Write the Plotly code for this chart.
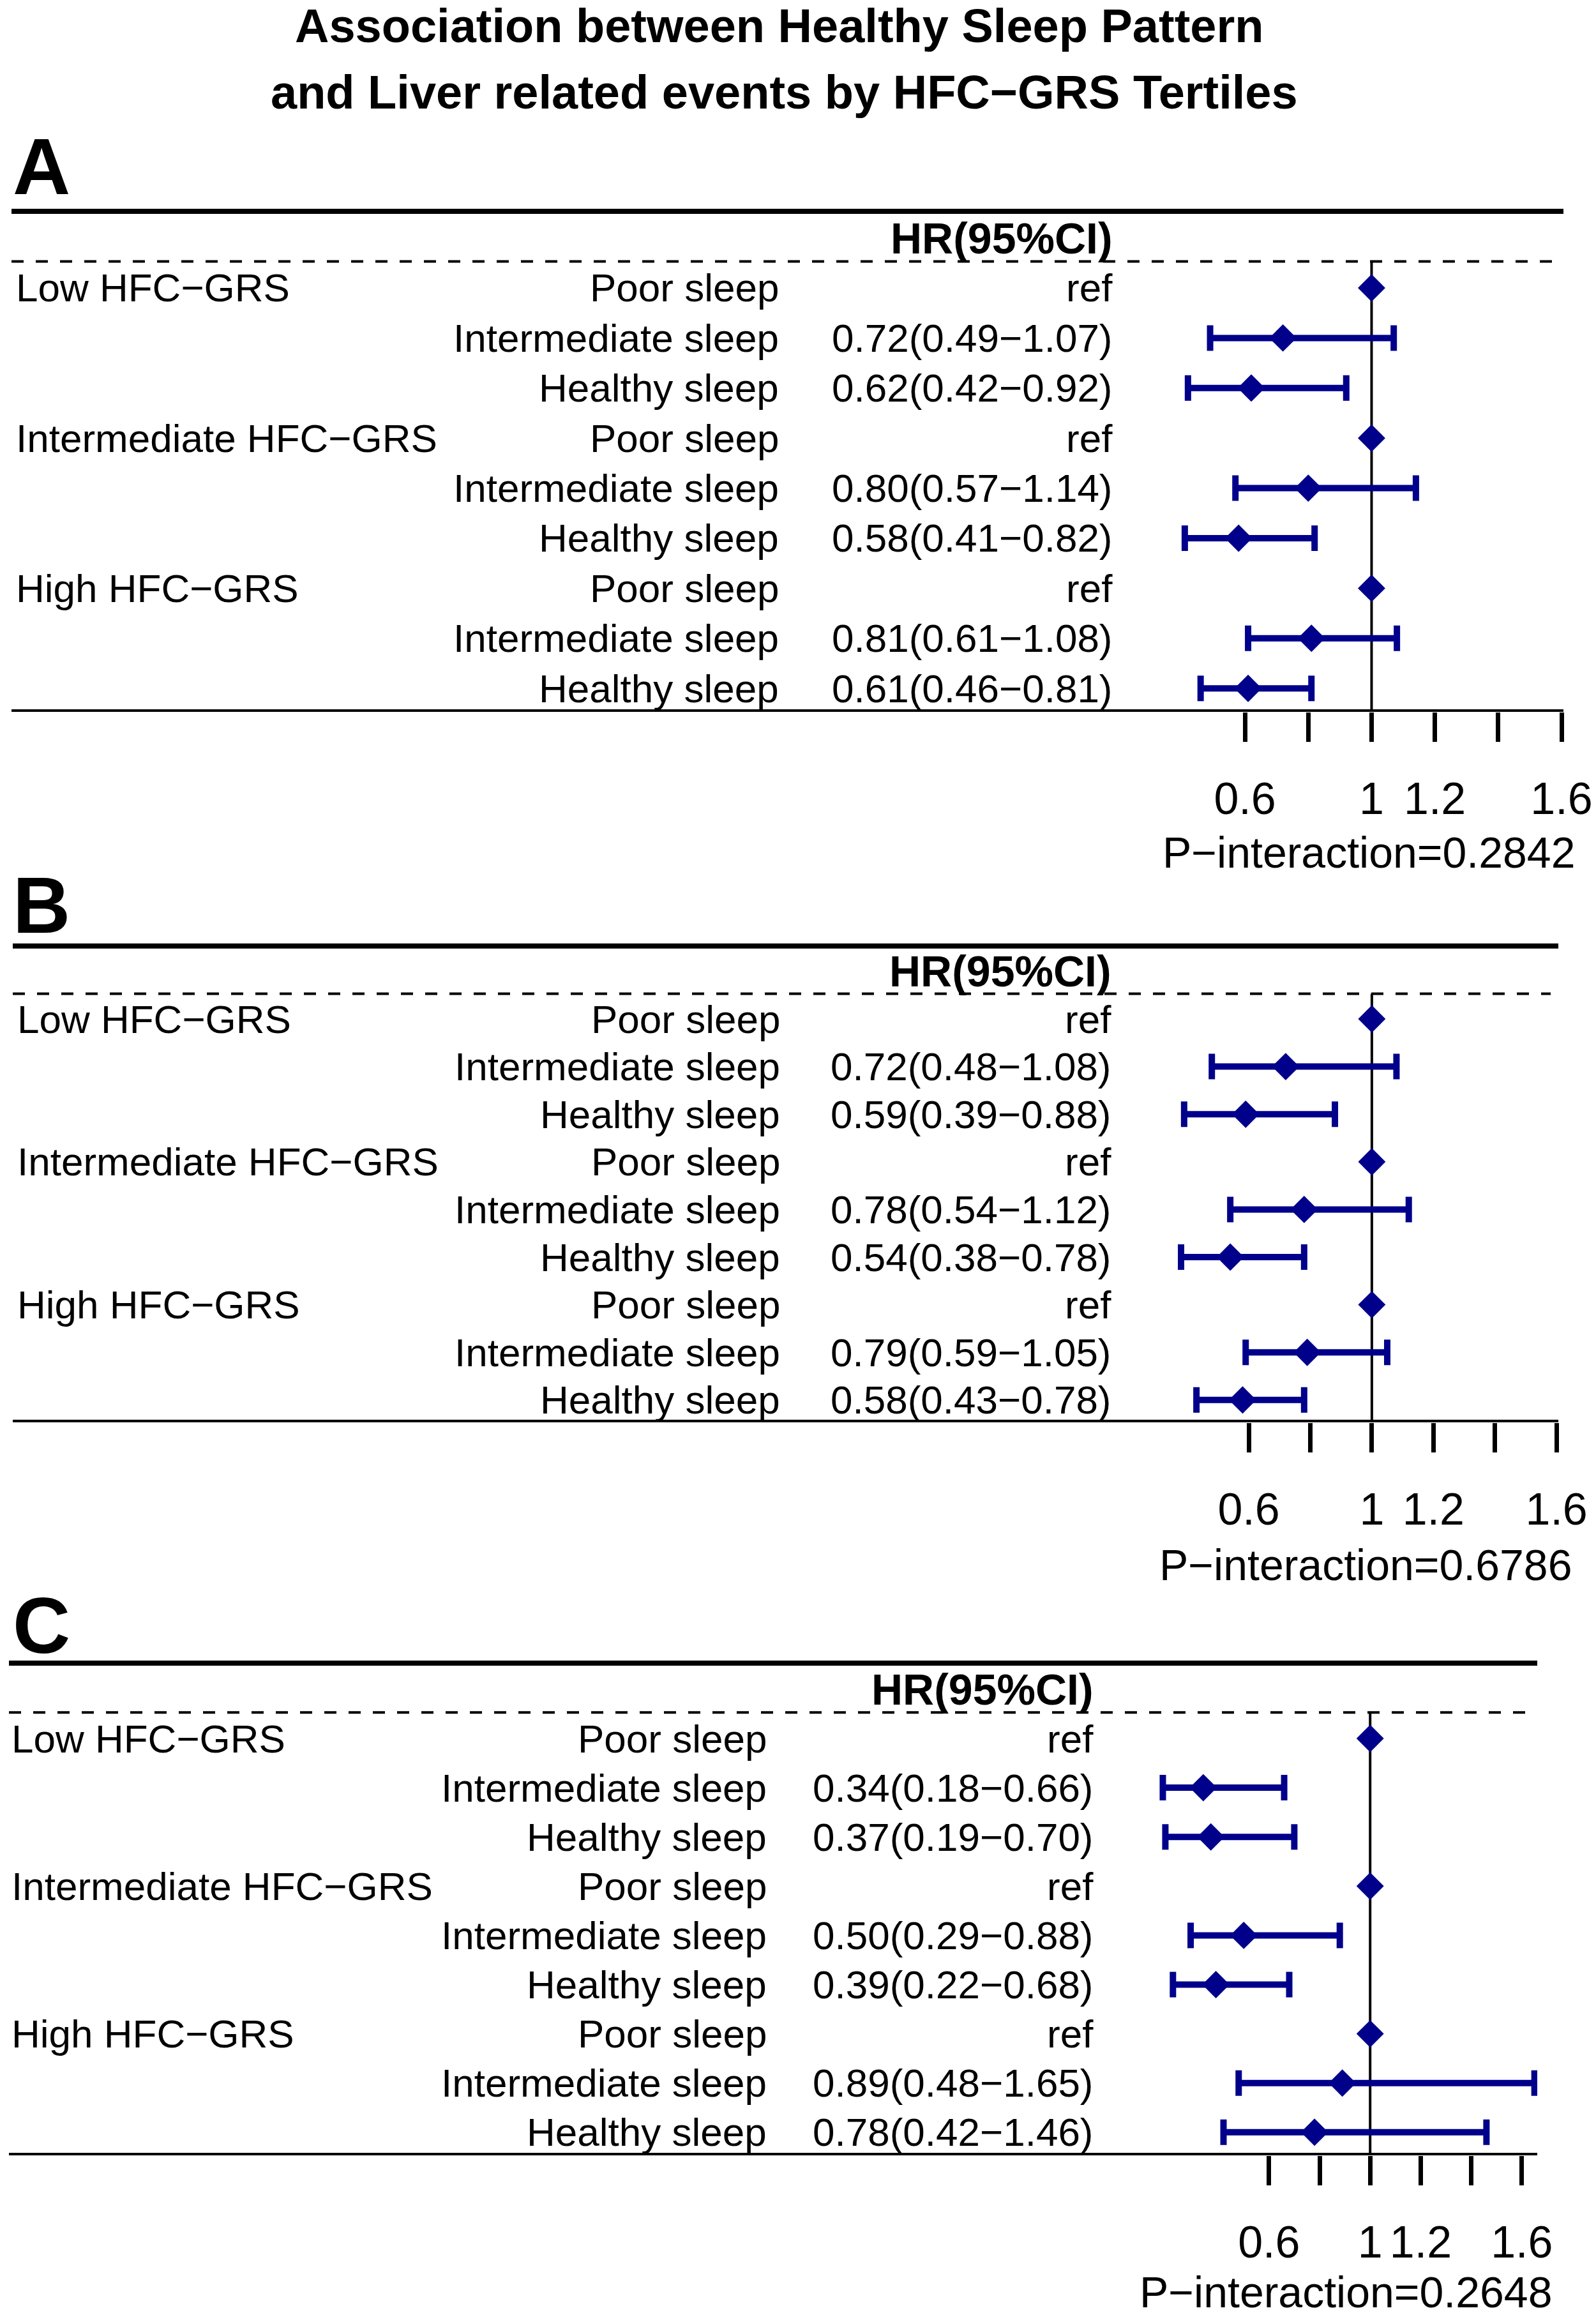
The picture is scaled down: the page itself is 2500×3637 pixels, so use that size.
import plotly.graph_objects as go

W, H = 2500, 3637
FONT = "Liberation Sans, Arial, sans-serif"
NAVY = "#00008B"

# --- data ---
GROUPS = ["Low HFC−GRS", "", "", "Intermediate HFC−GRS", "", "", "High HFC−GRS", "", ""]
SLEEP = ["Poor sleep", "Intermediate sleep", "Healthy sleep"] * 3
REF = 1.0

# None = reference category (HR fixed at 1)
HR_A = [None, 0.72, 0.62, None, 0.80, 0.58, None, 0.81, 0.61]
LO_A = [None, 0.49, 0.42, None, 0.57, 0.41, None, 0.61, 0.46]
HI_A = [None, 1.07, 0.92, None, 1.14, 0.82, None, 1.08, 0.81]

HR_B = [None, 0.72, 0.59, None, 0.78, 0.54, None, 0.79, 0.58]
LO_B = [None, 0.48, 0.39, None, 0.54, 0.38, None, 0.59, 0.43]
HI_B = [None, 1.08, 0.88, None, 1.12, 0.78, None, 1.05, 0.78]

HR_C = [None, 0.34, 0.37, None, 0.50, 0.39, None, 0.89, 0.78]
LO_C = [None, 0.18, 0.19, None, 0.29, 0.22, None, 0.48, 0.42]
HI_C = [None, 0.66, 0.70, None, 0.88, 0.68, None, 1.65, 1.46]

P_INT = ["0.2842", "0.6786", "0.2648"]
TICK_VALS = [0.6, 0.8, 1.0, 1.2, 1.4, 1.6]
TICK_TEXT = ["0.6", "", "1", "1.2", "", "1.6"]

# --- layout of the three panels (pixels) ---
PANELS = [
    dict(letter="A", hr=HR_A, lo=LO_A, hi=HI_A, p=P_INT[0], row1=451, step=78.4,
         xdom=(1839, 2449), xr=(0.376, 1.606), c1=23, c2=1222, c3=1745,
         left=18, right=2449, letter_y=260, p_x=2144, p_y=1335),
    dict(letter="B", hr=HR_B, lo=LO_B, hi=HI_B, p=P_INT[1], row1=1596, step=74.6,
         xdom=(1837, 2441), xr=(0.353, 1.606), c1=25, c2=1224, c3=1743,
         left=20, right=2441, letter_y=1418, p_x=2139, p_y=2451),
    dict(letter="C", hr=HR_C, lo=LO_C, hi=HI_C, p=P_INT[2], row1=2723, step=77.1,
         xdom=(1808, 2408), xr=(0.146, 1.661), c1=16, c2=1203, c3=1715,
         left=14, right=2408, letter_y=2545, p_x=2108, p_y=3590),
]
BOTTOM = 9.47
TOP_LINE = -0.53
DASH_LINE = 0.47


def px(x):
    return x / W


def py(y):
    return 1 - y / H


fig = go.Figure()
annotations = []
shapes = []
rows = list(range(1, 10))

for i, p in enumerate(PANELS):
    n = "" if i == 0 else str(i + 1)
    xref, yref = "x" + n, "y" + n

    ref_rows = [r for r, lo in zip(rows, p["lo"]) if lo is None]
    ci = [(r, h, lo, hi) for r, h, lo, hi in zip(rows, p["hr"], p["lo"], p["hi"]) if lo is not None]

    fig.add_trace(go.Scatter(
        x=[c[1] for c in ci], y=[c[0] for c in ci], mode="markers",
        marker=dict(symbol="diamond", size=33, color=NAVY),
        error_x=dict(type="data", symmetric=False,
                     array=[c[3] - c[1] for c in ci],
                     arrayminus=[c[1] - c[2] for c in ci],
                     color=NAVY, thickness=10, width=20),
        xaxis=xref, yaxis=yref, showlegend=False, cliponaxis=False))
    fig.add_trace(go.Scatter(
        x=[REF] * len(ref_rows), y=ref_rows, mode="markers",
        marker=dict(symbol="diamond", size=33, color=NAVY),
        xaxis=xref, yaxis=yref, showlegend=False, cliponaxis=False))

    top_px = p["row1"] - 2 * p["step"]
    bot_px = p["row1"] + (BOTTOM - 1) * p["step"]
    fig.update_layout(**{
        "xaxis" + n: dict(domain=[px(p["xdom"][0]), px(p["xdom"][1])], range=list(p["xr"]),
                          anchor=yref, tickvals=TICK_VALS, ticktext=TICK_TEXT,
                          ticks="outside", ticklen=46, tickwidth=7, tickcolor="black",
                          showline=False, showgrid=False, zeroline=False, automargin=False,
                          tickfont=dict(size=70, family=FONT, color="black"),
                          ticklabelstandoff=29, fixedrange=True),
        "yaxis" + n: dict(domain=[py(bot_px), py(top_px)], range=[BOTTOM, -1],
                          anchor=xref, visible=False, automargin=False, fixedrange=True),
    })

    # table borders
    shapes.append(dict(type="line", xref="paper", yref=yref, x0=px(p["left"]), x1=px(p["right"]),
                       y0=TOP_LINE, y1=TOP_LINE, line=dict(color="black", width=8)))
    shapes.append(dict(type="line", xref="paper", yref=yref, x0=px(p["left"]), x1=px(p["right"] - 12),
                       y0=DASH_LINE, y1=DASH_LINE, line=dict(color="black", width=4, dash="19px,19px")))
    shapes.append(dict(type="line", xref="paper", yref=yref, x0=px(p["left"]), x1=px(p["right"]),
                       y0=BOTTOM, y1=BOTTOM, line=dict(color="black", width=8)))
    # reference line at HR = 1
    shapes.append(dict(type="line", xref=xref, yref=yref, x0=REF, x1=REF,
                       y0=DASH_LINE, y1=BOTTOM, line=dict(color="black", width=4), layer="below"))

    # header
    annotations.append(dict(text="<b>HR(95%CI)</b>", xref="paper", yref=yref, x=px(p["c3"]), y=0,
                            xanchor="right", yanchor="middle", showarrow=False,
                            font=dict(size=68, family=FONT, color="black")))
    # rows
    for r, g, s, h, lo, hi in zip(rows, GROUPS, SLEEP, p["hr"], p["lo"], p["hi"]):
        txt = "ref" if lo is None else f"{h:.2f}({lo:.2f}−{hi:.2f})"
        if g:
            annotations.append(dict(text=g, xref="paper", yref=yref, x=px(p["c1"]), y=r,
                                    xanchor="left", yanchor="middle", showarrow=False,
                                    font=dict(size=62, family=FONT, color="black")))
        annotations.append(dict(text=s, xref="paper", yref=yref, x=px(p["c2"]), y=r,
                                xanchor="right", yanchor="middle", showarrow=False,
                                font=dict(size=62, family=FONT, color="black")))
        annotations.append(dict(text=txt, xref="paper", yref=yref, x=px(p["c3"]), y=r,
                                xanchor="right", yanchor="middle", showarrow=False,
                                font=dict(size=62, family=FONT, color="black")))

    # panel letter and p for interaction
    annotations.append(dict(text="<b>" + p["letter"] + "</b>", xref="paper", yref="paper",
                            x=px(18), y=py(p["letter_y"]), xanchor="left", yanchor="middle",
                            showarrow=False, font=dict(size=125, family=FONT, color="black")))
    annotations.append(dict(text="P−interaction=" + p["p"], xref="paper", yref="paper",
                            x=px(p["p_x"]), y=py(p["p_y"]), xanchor="center", yanchor="middle",
                            showarrow=False, font=dict(size=68, family=FONT, color="black")))

# title
annotations.append(dict(text="<b>Association between Healthy Sleep Pattern</b>", xref="paper", yref="paper",
                        x=px(1220), y=py(40), xanchor="center", yanchor="middle", showarrow=False,
                        font=dict(size=74, family=FONT, color="black")))
annotations.append(dict(text="<b>and Liver related events by HFC−GRS Tertiles</b>", xref="paper", yref="paper",
                        x=px(1228), y=py(145), xanchor="center", yanchor="middle", showarrow=False,
                        font=dict(size=74, family=FONT, color="black")))

fig.update_layout(
    width=W, height=H,
    margin=dict(l=0, r=0, t=0, b=0, autoexpand=False),
    paper_bgcolor="white", plot_bgcolor="white",
    annotations=annotations, shapes=shapes,
    font=dict(family=FONT, color="black"),
)

fig.write_html("out.html", config={"displayModeBar": False, "responsive": False},
               post_script="document.body.style.margin='0';")
